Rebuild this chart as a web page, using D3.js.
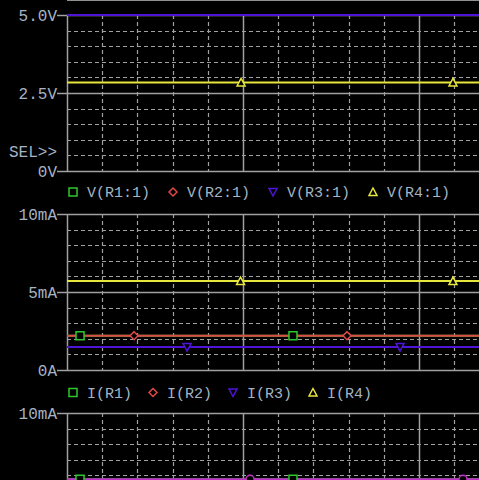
<!DOCTYPE html>
<html><head><meta charset="utf-8">
<script src="https://cdn.jsdelivr.net/npm/d3@7"></script>
<style>html,body{margin:0;padding:0;background:#000;overflow:hidden}svg{display:block}</style>
</head><body>
<svg id="c" width="479" height="480"></svg>
<script>
// ---- data ----
const timeMajorTicks = [0, 1, 2];
const timeMinorTicks = [0.2, 0.4, 0.6, 0.8, 1.2, 1.4, 1.6, 1.8, 2.2, 2.4];

const vSeries = ["V(R1:1)", "V(R2:1)", "V(R3:1)", "V(R4:1)"];
const vValues = [5.0, 5.0, 5.0, 2.84];
const vMarkerTimes = [[], [], [], [0.989, 2.193]];

const iSeries = ["I(R1)", "I(R2)", "I(R3)", "I(R4)"];
const iValues = [2.2, 2.2, 1.47, 5.7];
const iMarkerTimes = [[0.074, 1.284], [0.381, 1.591], [0.682, 1.892], [0.986, 2.193]];

const i3Series = ["I(R1)", "I(V1)"];
const i3Values = [5.75, 5.75];
const i3MarkerTimes = [[0.074, 1.284], [1.04, 2.25]];

const vTickValues = [0, 2.5, 5];
const vTickLabels = ["0V", "2.5V", "5.0V"];
const iTickValues = [0, 5, 10];
const iTickLabels = ["0A", "5mA", "10mA"];

const markerShapes = ["square", "diamond", "tdown", "tup"];
const seriesColors = ["#2ec82e", "#e04848", "#5014d8", "#e6e63c"];
const magenta = "#c030c8";

// ---- drawing ----
const svg = d3.select("#c");
const W = 479, H = 480;
const x = d3.scaleLinear().domain([0, 2.5]).range([67, 507]);
const gridCol = "#a0a0a0", textCol = "#a4b4c4";
const mono = "'Liberation Mono','DejaVu Sans Mono',monospace";

svg.append("line").attr("x1", 67).attr("x2", W).attr("y1", 0.5).attr("y2", 0.5)
  .attr("stroke", "#909090").attr("stroke-width", 1);

function panel(yDomain, yRange, tickVals, tickLabels, minorStep) {
  const y = d3.scaleLinear().domain(yDomain).range(yRange);
  const g = svg.append("g");
  const minors = d3.range(yDomain[0], yDomain[1] + 1e-9, minorStep).filter(v => !tickVals.some(t => Math.abs(t - v) < 1e-9));
  g.selectAll(".hm").data(minors).enter().append("line")
    .attr("x1", 67).attr("x2", W).attr("y1", d => Math.round(y(d)) + 0.5).attr("y2", d => Math.round(y(d)) + 0.5)
    .attr("stroke", gridCol).attr("stroke-dasharray", "4,3").attr("stroke-width", 1.2);
  g.selectAll(".vm").data(timeMinorTicks).enter().append("line")
    .attr("x1", d => Math.round(x(d)) + 0.5).attr("x2", d => Math.round(x(d)) + 0.5)
    .attr("y1", yRange[1]).attr("y2", Math.min(yRange[0], H))
    .attr("stroke", gridCol).attr("stroke-dasharray", "4,3").attr("stroke-width", 1.2);
  const visTicks = tickVals.filter(d => y(d) < H);
  g.selectAll(".hM").data(visTicks).enter().append("line")
    .attr("x1", 57).attr("x2", W).attr("y1", d => Math.round(y(d)) + 0.5).attr("y2", d => Math.round(y(d)) + 0.5)
    .attr("stroke", gridCol).attr("stroke-width", 1.5);
  g.selectAll(".vM").data(timeMajorTicks).enter().append("line")
    .attr("x1", d => Math.round(x(d)) + 0.5).attr("x2", d => Math.round(x(d)) + 0.5)
    .attr("y1", yRange[1]).attr("y2", Math.min(yRange[0], H))
    .attr("stroke", gridCol).attr("stroke-width", 1.5);
  g.selectAll(".lab").data(visTicks).enter().append("text")
    .attr("x", 57).attr("y", d => y(d)).attr("dy", "0.35em")
    .attr("text-anchor", "end").attr("fill", textCol)
    .attr("font-family", mono).attr("font-size", 16)
    .text(d => tickLabels[tickVals.indexOf(d)]);
  return y;
}

function drawSeries(y, values, colors, markerTimes, shapes) {
  const g = svg.append("g");
  values.forEach((v, i) => {
    g.append("line").attr("x1", 67).attr("x2", W)
      .attr("y1", y(v)).attr("y2", y(v))
      .attr("stroke", colors[i]).attr("stroke-width", 2);
  });
  values.forEach((v, i) => {
    markerTimes[i].forEach(t => drawMarker(g, x(t), y(v), shapes[i], colors[i]));
  });
}

function drawMarker(g, cx, cy, shape, color) {
  const s = 4;
  let p;
  if (shape === "square") p = `M${cx - s},${cy - s}h${2 * s}v${2 * s}h${-2 * s}Z`;
  else if (shape === "diamond") p = `M${cx},${cy - s}L${cx + s},${cy}L${cx},${cy + s}L${cx - s},${cy}Z`;
  else if (shape === "tdown") p = `M${cx - s},${cy - s + 0.5}L${cx + s},${cy - s + 0.5}L${cx},${cy + s}Z`;
  else if (shape === "tup") p = `M${cx - s},${cy + s - 0.5}L${cx + s},${cy + s - 0.5}L${cx},${cy - s}Z`;
  else if (shape === "circle") { g.append("circle").attr("cx", cx).attr("cy", cy).attr("r", s).attr("fill", "#000").attr("stroke", color).attr("stroke-width", 1.5); return; }
  g.append("path").attr("d", p).attr("fill", "#000").attr("stroke", color).attr("stroke-width", 1.5);
}

function legend(names, yPos, x0, step) {
  const g = svg.append("g");
  names.forEach((n, i) => {
    const lx = x0 + i * step;
    drawMarker(g, lx, yPos, markerShapes[i], seriesColors[i]);
    g.append("text").attr("x", lx + 14).attr("y", yPos).attr("dy", "0.35em")
      .attr("fill", textCol).attr("font-family", mono).attr("font-size", 15)
      .text(n);
  });
}

// Panel 1 : voltages
const y1 = panel([0, 5], [171, 15], vTickValues, vTickLabels, 0.5);
svg.append("text").attr("x", 57).attr("y", 151).attr("dy", "0.35em").attr("text-anchor", "end")
  .attr("fill", textCol).attr("font-family", mono).attr("font-size", 16).text("SEL>>");
drawSeries(y1, vValues, seriesColors, vMarkerTimes, markerShapes);
legend(vSeries, 192, 73, 100);

// Panel 2 : currents
const y2 = panel([0, 10], [370, 214], iTickValues, iTickLabels, 1);
drawSeries(y2, iValues, seriesColors, iMarkerTimes, markerShapes);
legend(iSeries, 392.5, 73, 80);

// Panel 3 : currents (partially visible)
const y3 = panel([0, 10], [569, 413], iTickValues, iTickLabels, 1);
drawSeries(y3, i3Values, [seriesColors[0], magenta], i3MarkerTimes, ["square", "circle"]);
</script>
</body></html>
